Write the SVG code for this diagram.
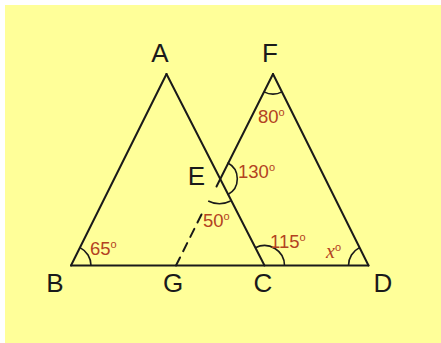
<svg xmlns="http://www.w3.org/2000/svg" width="441" height="343" viewBox="0 0 441 343">
<style>
.ln{stroke:#1a1a1a;stroke-width:2;fill:none;stroke-linecap:round}
.arc{stroke:#1a1a1a;stroke-width:1.6;fill:none}
.lbl{font-family:"Liberation Sans",Arial,sans-serif;font-size:26px;fill:#1a1a1a;text-anchor:middle}
.ang{font-family:"Liberation Sans",Arial,sans-serif;font-size:18.5px;fill:#b3421f}
.deg{font-size:11px}
.xv{font-family:"Liberation Serif","Times New Roman",serif;font-style:italic;font-size:20px;fill:#b3421f}
</style>
<rect x="0" y="0" width="441" height="343" fill="#ffffff"/>
<rect x="5" y="5" width="436" height="338" fill="#ffff99"/>
<g id="connectors">
<line class="ln" x1="71" y1="265.5" x2="368.5" y2="265.5"/>
<line class="ln" x1="71" y1="265.5" x2="166.5" y2="74"/>
<line class="ln" x1="166.5" y1="74" x2="264.5" y2="265.5"/>
<line class="ln" x1="273" y1="74" x2="368.5" y2="265.5"/>
<line class="ln" x1="273" y1="74" x2="216.5" y2="186.5"/>
<line class="ln" x1="176" y1="265.5" x2="201.5" y2="214.5" stroke-dasharray="9,7" stroke-linecap="butt"/>
</g>
<g id="angles">
<path class="arc" d="M91,265.5 A20,20 0 0 0 80,247.6"/>
<path class="arc" d="M284.5,265.5 A20,20 0 0 0 255.4,247.7"/>
<path class="arc" d="M348.5,265.5 A20,20 0 0 1 359.5,247.6"/>
<path class="arc" d="M264,91.9 A20,20 0 0 0 282,91.9"/>
<path class="arc" d="M227.5,162.8 A18,18 0 0 1 227.6,194.8"/>
<path class="arc" d="M208.2,201 A25,25 0 0 0 230.6,201"/>
</g>
<g id="node-A"><text class="lbl" x="160" y="62">A</text></g>
<g id="node-F"><text class="lbl" x="270" y="62">F</text></g>
<g id="node-E"><text class="lbl" x="196.5" y="185">E</text></g>
<g id="node-B"><text class="lbl" x="55" y="292">B</text></g>
<g id="node-G"><text class="lbl" x="173" y="292">G</text></g>
<g id="node-C"><text class="lbl" x="263" y="292">C</text></g>
<g id="node-D"><text class="lbl" x="383" y="292">D</text></g>
<g id="angle-labels">
<text class="ang" x="90" y="255">65<tspan class="deg" dy="-7">o</tspan></text>
<text class="ang" x="258" y="123">80<tspan class="deg" dy="-7">o</tspan></text>
<text class="ang" x="238" y="178">130<tspan class="deg" dy="-7">o</tspan></text>
<text class="ang" x="203" y="227">50<tspan class="deg" dy="-7">o</tspan></text>
<text class="ang" x="270" y="248">115<tspan class="deg" dy="-7">o</tspan></text>
<text class="xv" x="326" y="258">x<tspan class="deg" font-style="normal" font-family="Liberation Sans, sans-serif" dy="-7">o</tspan></text>
</g>
</svg>
